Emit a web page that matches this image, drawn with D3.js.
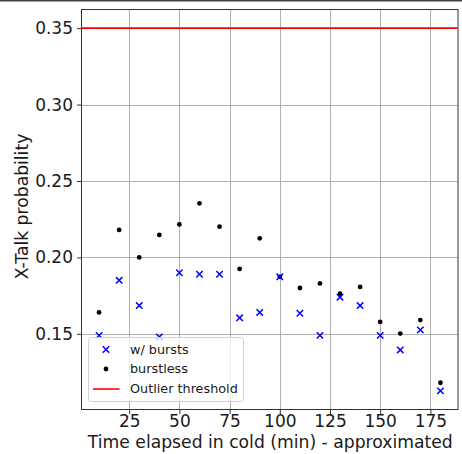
<!DOCTYPE html>
<html>
<head>
<meta charset="utf-8">
<script src="https://cdn.jsdelivr.net/npm/d3@7"></script>
<style>
  body { margin: 0; background: #fff; }
  svg { display: block; font-family: "DejaVu Sans", sans-serif; }
</style>
</head>
<body>
<svg id="chart" width="462" height="454"></svg>
<script>
const times = [10, 20, 30, 40, 50, 60, 70, 80, 90, 100, 110, 120, 130, 140, 150, 160, 170, 180];
const withBursts = [0.149, 0.185, 0.1685, 0.148, 0.190, 0.189, 0.189, 0.1605, 0.164, 0.1873, 0.1635, 0.149, 0.174, 0.1685, 0.149, 0.1395, 0.1526, 0.1127];
const burstless = [0.164, 0.218, 0.200, 0.2147, 0.2216, 0.2354, 0.2201, 0.1925, 0.2125, 0.1873, 0.180, 0.183, 0.1763, 0.1807, 0.1578, 0.1502, 0.159, 0.118];
const threshold = 0.35;
const xTicks = [25, 50, 75, 100, 125, 150, 175];
const yTicks = [0.15, 0.20, 0.25, 0.30, 0.35];
const legendLabels = ["w/ bursts", "burstless", "Outlier threshold"];

const width = 462;
const height = 454;
const plotLeft = 82, plotRight = 457.5, plotTop = 10, plotBottom = 409;

const svg = d3.select("#chart");

// top border line of the screenshot
svg.append("rect").attr("x", 0).attr("y", 0).attr("width", width).attr("height", 1.5).attr("fill", "#444");

const xMin = d3.min(times), xMax = d3.max(times);
const xPad = (xMax - xMin) * 0.05;
const xScale = d3.scaleLinear()
  .domain([xMin - xPad, xMax + xPad])
  .range([plotLeft, plotRight]);

const yMin = d3.min([...withBursts, ...burstless, threshold]);
const yMax = d3.max([...withBursts, ...burstless, threshold]);
const yPad = (yMax - yMin) * 0.05;
const yScale = d3.scaleLinear()
  .domain([yMin - yPad, yMax + yPad])
  .range([plotBottom, plotTop]);

const px = v => Math.round(v) + 0.5;

// grid
svg.append("g")
  .selectAll("line")
  .data(xTicks)
  .enter().append("line")
  .attr("x1", d => px(xScale(d))).attr("x2", d => px(xScale(d)))
  .attr("y1", plotTop).attr("y2", plotBottom)
  .attr("stroke", "#b0b0b0").attr("stroke-width", 1);

svg.append("g")
  .selectAll("line")
  .data(yTicks)
  .enter().append("line")
  .attr("x1", plotLeft).attr("x2", plotRight)
  .attr("y1", d => px(yScale(d))).attr("y2", d => px(yScale(d)))
  .attr("stroke", "#b0b0b0").attr("stroke-width", 1);

// threshold line
svg.append("line")
  .attr("x1", plotLeft).attr("x2", plotRight)
  .attr("y1", yScale(threshold)).attr("y2", yScale(threshold))
  .attr("stroke", "red").attr("stroke-width", 1.6);

// burstless dots
svg.append("g")
  .selectAll("circle")
  .data(times.map((t, i) => [t, burstless[i]]))
  .enter().append("circle")
  .attr("cx", d => xScale(d[0]))
  .attr("cy", d => yScale(d[1]))
  .attr("r", 2.4)
  .attr("fill", "black");

// w/ bursts crosses
const s = 3.2;
svg.append("g")
  .selectAll("path")
  .data(times.map((t, i) => [t, withBursts[i]]))
  .enter().append("path")
  .attr("d", d => {
    const x = xScale(d[0]), y = yScale(d[1]);
    return `M${x - s},${y - s}L${x + s},${y + s}M${x - s},${y + s}L${x + s},${y - s}`;
  })
  .attr("stroke", "blue").attr("stroke-width", 1.5).attr("fill", "none");

// axes
const xAxis = d3.axisBottom(xScale).tickValues(xTicks).tickSize(5).tickPadding(1).tickFormat(d3.format("d"));
const yAxis = d3.axisLeft(yScale).tickValues(yTicks).tickSize(5).tickPadding(4).tickFormat(d3.format(".2f"));

const gx = svg.append("g")
  .attr("transform", `translate(0, ${plotBottom})`)
  .call(xAxis);
const gy = svg.append("g")
  .attr("transform", `translate(${plotLeft}, 0)`)
  .call(yAxis);

[gx, gy].forEach(g => {
  g.select(".domain").remove();
  g.selectAll(".tick line").attr("stroke", "#333").attr("stroke-width", 1);
  g.selectAll(".tick text")
    .attr("fill", "#1a1a1a")
    .style("font-size", "17px")
    .style("font-family", "DejaVu Sans");
});

// spines
svg.append("rect")
  .attr("x", plotLeft - 0.5).attr("y", plotTop - 0.5)
  .attr("width", plotRight - plotLeft + 1).attr("height", plotBottom - plotTop + 1)
  .attr("fill", "none").attr("stroke", "#333").attr("stroke-width", 1);

// legend
const lg = svg.append("g");
lg.append("rect")
  .attr("x", 88.5).attr("y", 337.5).attr("width", 155).attr("height", 64)
  .attr("rx", 3)
  .attr("fill", "white").attr("fill-opacity", 0.8)
  .attr("stroke", "#d0d0d0").attr("stroke-width", 1);

const rowY = [349.5, 369, 389];
lg.append("path")
  .attr("d", `M${106 - s},${rowY[0] - s}L${106 + s},${rowY[0] + s}M${106 - s},${rowY[0] + s}L${106 + s},${rowY[0] - s}`)
  .attr("stroke", "blue").attr("stroke-width", 1.5).attr("fill", "none");
lg.append("circle").attr("cx", 106).attr("cy", rowY[1]).attr("r", 2.4).attr("fill", "black");
lg.append("line").attr("x1", 93).attr("x2", 119.5).attr("y1", rowY[2]).attr("y2", rowY[2])
  .attr("stroke", "red").attr("stroke-width", 1.6);

lg.selectAll("text")
  .data(legendLabels)
  .enter().append("text")
  .attr("x", 130)
  .attr("y", (d, i) => rowY[i])
  .attr("dy", "0.35em")
  .attr("fill", "#1a1a1a")
  .style("font-size", "12.8px")
  .text(d => d);

// axis labels
svg.append("text")
  .attr("x", (plotLeft + plotRight) / 2 + 0.5)
  .attr("y", 447.5)
  .attr("text-anchor", "middle")
  .attr("fill", "#1a1a1a")
  .style("font-size", "17.2px")
  .text("Time elapsed in cold (min) - approximated");

svg.append("text")
  .attr("transform", `translate(27.5, ${(plotTop + plotBottom) / 2 - 3}) rotate(-90)`)
  .attr("text-anchor", "middle")
  .attr("fill", "#1a1a1a")
  .style("font-size", "17.2px")
  .text("X-Talk probability");
</script>
</body>
</html>
